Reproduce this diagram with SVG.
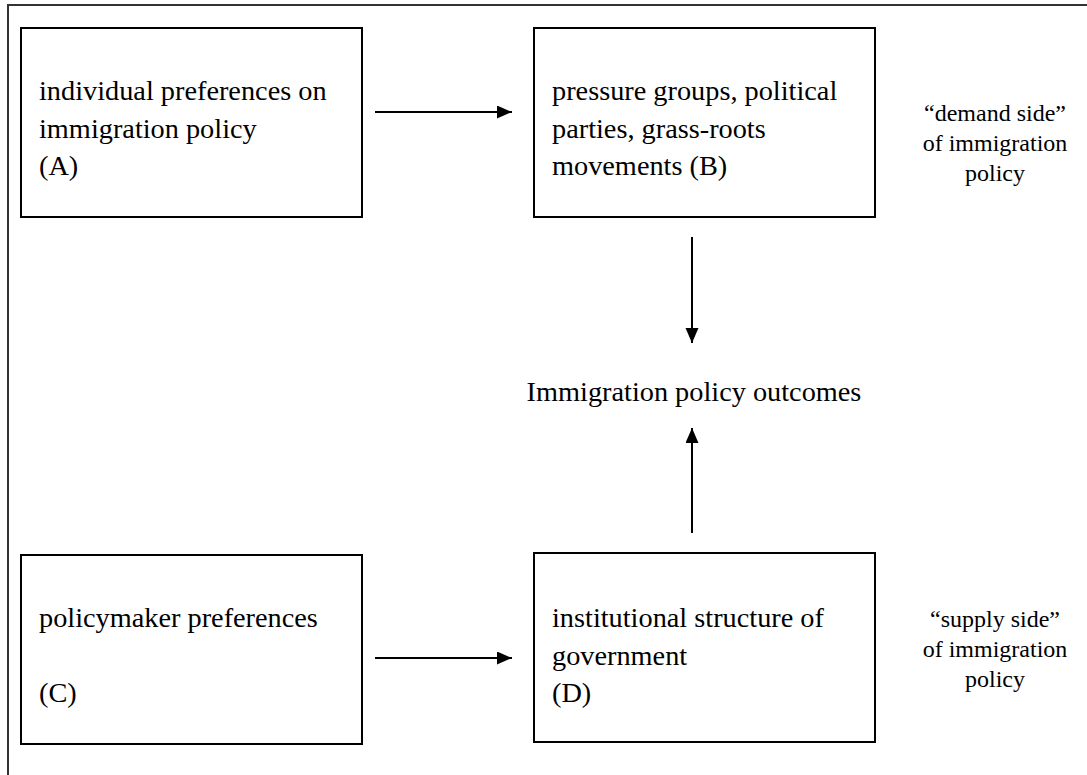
<svg xmlns="http://www.w3.org/2000/svg" width="1087" height="775" viewBox="0 0 1087 775">
<style>
.box{fill:#fff;stroke:#000;stroke-width:2}
.t{font-family:"Liberation Serif","Times New Roman",serif;font-size:28.3px;fill:#000}
.s{font-family:"Liberation Serif","Times New Roman",serif;font-size:24px;fill:#000;text-anchor:middle}
.c{stroke:#000;stroke-width:2;fill:none}
</style>
<defs>
<marker id="ah" markerUnits="userSpaceOnUse" markerWidth="16" markerHeight="14" refX="15" refY="6.5" orient="auto">
<path d="M0,0 L15,6.5 L0,13 Z" fill="#000"/>
</marker>
</defs>
<rect width="1087" height="775" fill="#fff"/>
<g id="frame">
<path d="M8,775 L8,5 L1087,5" fill="none" stroke="#333" stroke-width="2"/>
</g>
<g id="nodeA">
<rect class="box" x="21" y="28" width="341" height="189"/>
<text class="t" x="39" y="100">individual preferences on</text>
<text class="t" x="39" y="137.5">immigration policy</text>
<text class="t" x="39" y="175">(A)</text>
</g>
<g id="nodeB">
<rect class="box" x="534" y="28" width="341" height="189"/>
<text class="t" x="552" y="100">pressure groups, political</text>
<text class="t" x="552" y="137.5">parties, grass-roots</text>
<text class="t" x="552" y="175">movements (B)</text>
</g>
<g id="demand">
<text class="s" x="995" y="121">“demand side”</text>
<text class="s" x="995" y="151">of immigration</text>
<text class="s" x="995" y="181">policy</text>
</g>
<g id="outcomes">
<text class="t" x="694" y="401" text-anchor="middle">Immigration policy outcomes</text>
</g>
<g id="nodeC">
<rect class="box" x="21" y="555" width="341" height="189"/>
<text class="t" x="39" y="627">policymaker preferences</text>
<text class="t" x="39" y="702">(C)</text>
</g>
<g id="nodeD">
<rect class="box" x="534" y="553" width="341" height="189"/>
<text class="t" x="552" y="627">institutional structure of</text>
<text class="t" x="552" y="664.5">government</text>
<text class="t" x="552" y="702">(D)</text>
</g>
<g id="supply">
<text class="s" x="995" y="627">“supply side”</text>
<text class="s" x="995" y="657">of immigration</text>
<text class="s" x="995" y="687">policy</text>
</g>
<g id="connectors">
<line class="c" x1="375" y1="112" x2="512" y2="112" marker-end="url(#ah)"/>
<line class="c" x1="375" y1="658" x2="512" y2="658" marker-end="url(#ah)"/>
<line class="c" x1="692" y1="237" x2="692" y2="343" marker-end="url(#ah)"/>
<line class="c" x1="692" y1="533" x2="692" y2="428" marker-end="url(#ah)"/>
</g>
</svg>
